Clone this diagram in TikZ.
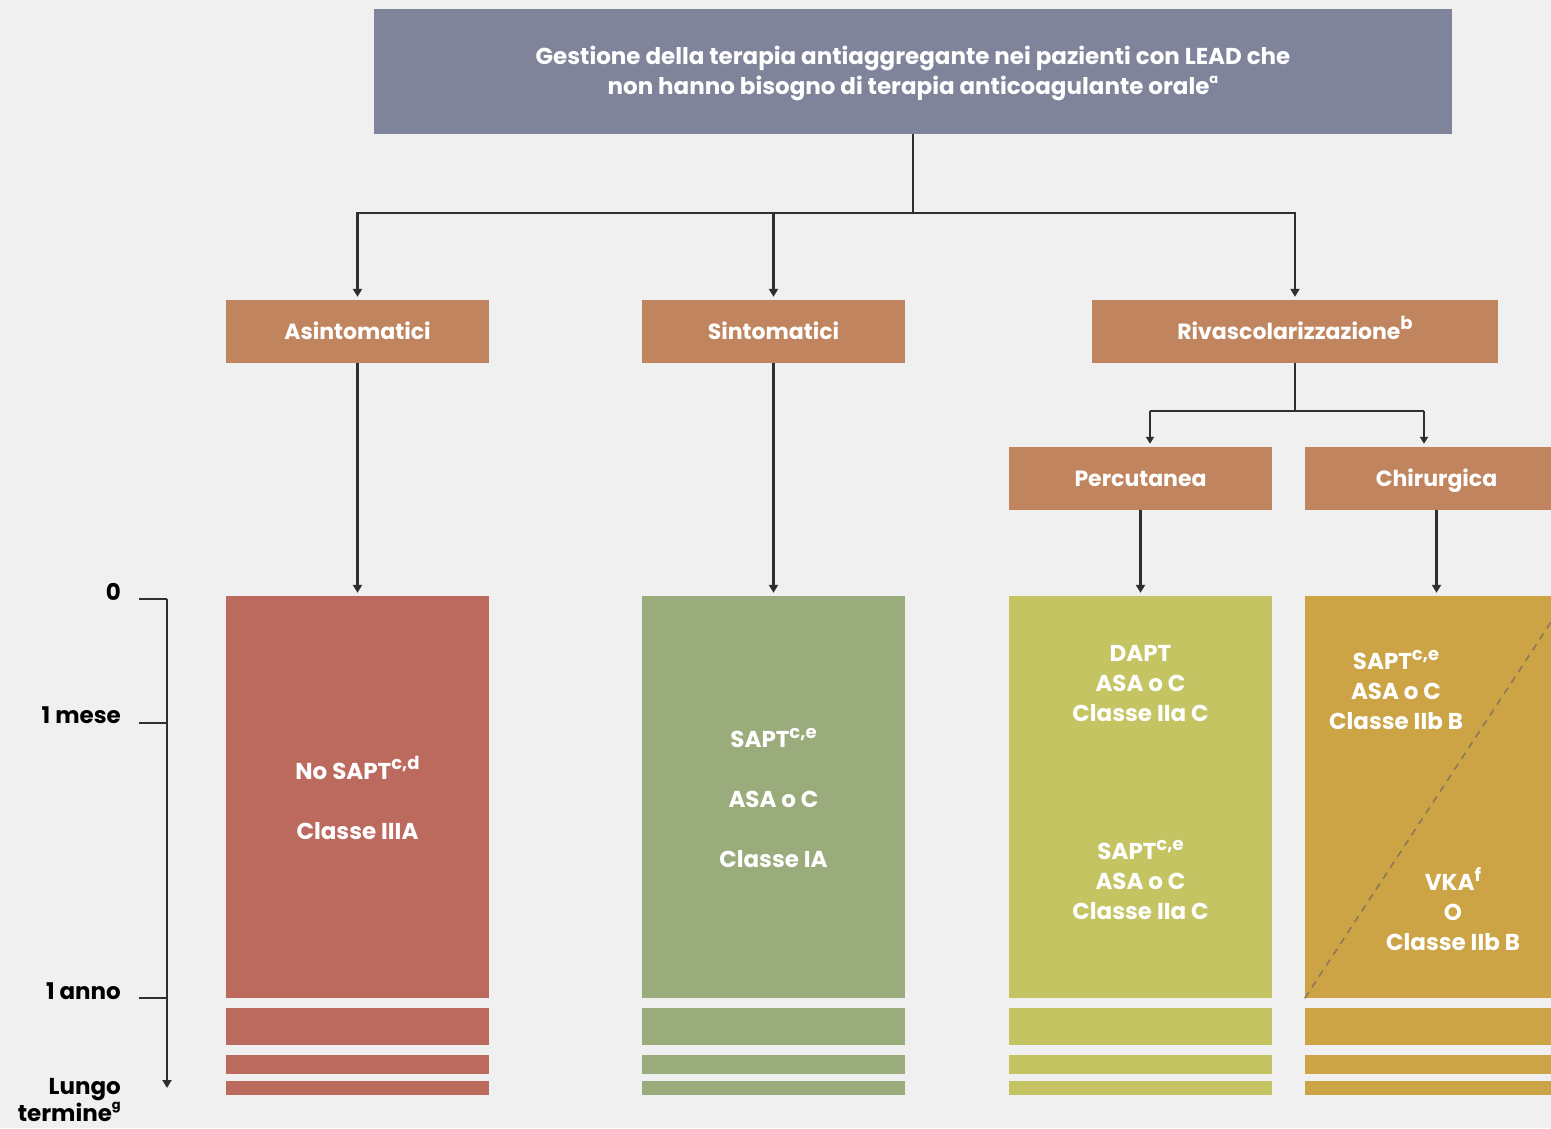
\documentclass[tikz,border=0pt]{standalone}
\usepackage{fontspec}
\setmainfont{Poppins}
\usetikzlibrary{arrows.meta,calc}
\definecolor{bgc}{HTML}{F0F0F0}
\definecolor{titlec}{HTML}{7F849B}
\definecolor{brownc}{HTML}{C0855F}
\definecolor{redc}{HTML}{BC695E}
\definecolor{greenc}{HTML}{9AAC7B}
\definecolor{ygreenc}{HTML}{C4C462}
\definecolor{goldc}{HTML}{CDA445}
\definecolor{linec}{HTML}{2F2F2F}
\definecolor{dashc}{HTML}{8A7A58}
\newcommand{\bigsup}[1]{\raisebox{0.42em}{\fontsize{18}{18}\selectfont #1}}
\newcommand{\smallsup}[1]{\raisebox{0.5em}{\fontsize{13}{13}\selectfont #1}}
\begin{document}
\begin{tikzpicture}[x=1pt,y=-1pt,
  hdr/.style={fill=brownc, text=white, font=\fontsize{22}{26}\selectfont\bfseries, minimum width=263pt, minimum height=63pt, inner sep=0pt, text height=18pt, text depth=3pt},
  bigbox/.style={minimum width=263pt, minimum height=402pt, inner sep=0pt},
  txt/.style={text=white, font=\fontsize{23}{30}\selectfont\bfseries, align=center, inner sep=0pt},
  lab/.style={text=black, font=\fontsize{23}{27}\selectfont\bfseries, align=right, anchor=east, inner sep=0pt},
  conn/.style={draw=linec, line width=2.4pt, -{Triangle[length=8pt,width=9pt]}, shorten >=3pt},
  plain/.style={draw=linec, line width=2.4pt},
  thinconn/.style={draw=linec, line width=1.8pt, -{Triangle[length=7pt,width=8pt]}, shorten >=3pt},
  thin/.style={draw=linec, line width=1.8pt}]
\clip (0,0) rectangle (1551,1128);
\fill[bgc] (0,0) rectangle (1551,1128);

% title
\node[fill=titlec, minimum width=1078pt, minimum height=125pt, inner sep=0pt, text=white,
  font=\fontsize{23}{30}\selectfont\bfseries, align=center] (title) at (913,71.5) {};
\node[text=white, font=\fontsize{23}{30}\selectfont\bfseries, align=center, inner sep=0pt] (titletext) at (913,73.5)
  {Gestione della terapia antiaggregante nei pazienti con LEAD che\\non hanno bisogno di terapia anticoagulante orale\smallsup{a}};

% header boxes
\node[hdr] (asin) at (357.5,331.5) {Asintomatici};
\node[hdr] (sint) at (773.5,331.5) {Sintomatici};
\node[hdr, minimum width=406pt] (riv) at (1295,331.5) {Rivascolarizzazione\bigsup{b}};
\node[hdr] (perc) at (1140.5,478.5) {Percutanea};
\node[hdr] (chir) at (1436.5,478.5) {Chirurgica};

% big boxes
\node[bigbox, fill=redc] (red) at (357.5,797) {};
\node[bigbox, fill=greenc] (green) at (773.5,797) {};
\node[bigbox, fill=ygreenc] (yg) at (1140.5,797) {};
\node[bigbox, fill=goldc] (gold) at (1436.5,797) {};

% stripes
\foreach \c/\xa in {redc/226, greenc/642, ygreenc/1009, goldc/1305}{
  \fill[\c] (\xa,1008) rectangle ++(263,37);
  \fill[\c] (\xa,1055) rectangle ++(263,19);
  \fill[\c] (\xa,1081) rectangle ++(263,14);
}

% dashed diagonal
\draw[dashc, line width=1.6pt, dash pattern=on 7pt off 6pt] (gold.south west) -- (gold.north east);

% box texts
\node[txt] (t1) at (357.5,798) {No SAPT\bigsup{c,d}\\[30pt]Classe IIIA};
\node[txt] (t2) at (773.5,798) {SAPT\bigsup{c,e}\\[30pt]ASA o C\\[30pt]Classe IA};
\node[txt] (t3) at (1140.5,684) {DAPT\\ASA o C\\Classe IIa C};
\node[txt] (t4) at (1140.5,880) {SAPT\bigsup{c,e}\\ASA o C\\Classe IIa C};
\node[txt] (t5) at (1396,690) {SAPT\bigsup{c,e}\\ASA o C\\Classe IIb B};
\node[txt] (t6) at (1453,909) {VKA\bigsup{f}\\O\\Classe IIb B};

% connectors
\coordinate (j) at (913,213);
\draw[plain] (title.south) -- (j);
\draw[conn] (j) -| (asin.north);
\draw[conn] (j) -| (sint.north);
\draw[conn] (j) -| (riv.north);
\coordinate (k) at (1295,411);
\coordinate (k1) at (1150,411);
\coordinate (k2) at (1424,411);
\draw[thin] (riv.south) -- (k);
\draw[thin] (k1) -- (k2);
\draw[thinconn] (k1) -- (k1 |- perc.north);
\draw[thinconn] (k2) -- (k2 |- chir.north);
\draw[conn] (asin.south) -- (red.north);
\draw[conn] (sint.south) -- (green.north);
\draw[conn] (perc.south) -- (yg.north);
\draw[conn] (chir.south) -- (gold.north);

% timeline
\coordinate (a0) at (167,599);
\coordinate (aend) at (167,1088);
\draw[plain] (139,599) -- (a0);
\draw[conn, shorten >=0pt] (a0) -- (aend);
\draw[plain] (139,723) -- (167,723);
\draw[plain] (139,998) -- (167,998);
\node[lab] (l0) at (121,592) {0};
\node[lab] (l1) at (121,715) {1 mese};
\node[lab] (l2) at (121,991) {1 anno};
\node[lab] (l3) at (121,1100) {Lungo\\termine\smallsup{g}};
\end{tikzpicture}
\end{document}
